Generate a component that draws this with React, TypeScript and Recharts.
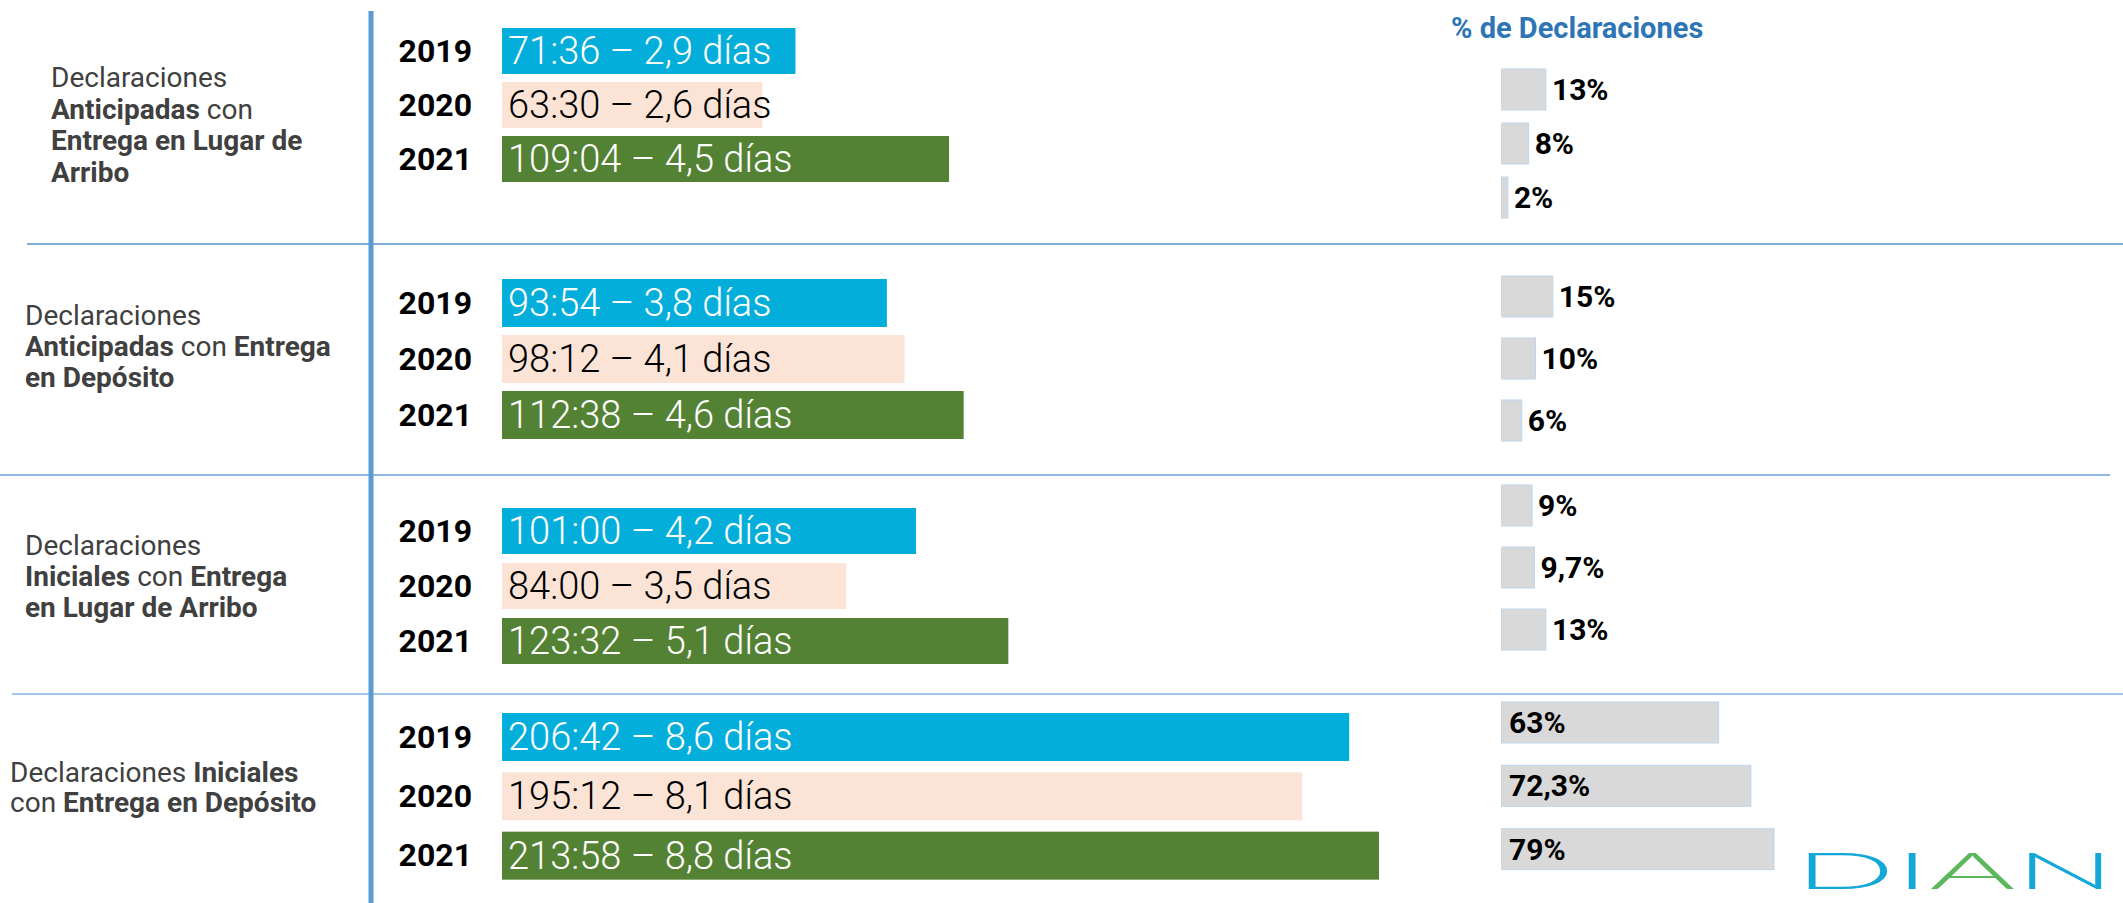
import React from 'react'
import { BarChart, Bar, XAxis, YAxis } from 'recharts'

// ---- data ----
const years = ['2019', '2020', '2021']

const groupLabels = [
  ['Declaraciones', '**Anticipadas** con', '**Entrega en Lugar de**', '**Arribo**'],
  ['Declaraciones', '**Anticipadas** con **Entrega**', '**en Depósito**'],
  ['Declaraciones', '**Iniciales** con **Entrega**', '**en Lugar de Arribo**'],
  ['Declaraciones **Iniciales**', 'con **Entrega en Depósito**'],
]

// tiempo promedio (hh:mm) por año
const tiempos = [
  ['71:36', '63:30', '109:04'],
  ['93:54', '98:12', '112:38'],
  ['101:00', '84:00', '123:32'],
  ['206:42', '195:12', '213:58'],
]

const dias = [
  [2.9, 2.6, 4.5],
  [3.8, 4.1, 4.6],
  [4.2, 3.5, 5.1],
  [8.6, 8.1, 8.8],
]

// % de declaraciones
const porcentajes = [
  [13, 8, 2],
  [15, 10, 6],
  [9, 9.7, 13],
  [63, 72.3, 79],
]

// ---- look & layout ----
const FONT = 'Roboto, "Open Sans", sans-serif'
const YEAR_COLORS = ['#04AEDA', '#FBE4D6', '#548235']
const YEAR_TEXT = ['#ffffff', '#000000', '#ffffff']

const HOUR_PANELS = [
  { top: 24, height: 162, barSize: 46 },
  { top: 275, height: 168, barSize: 48 },
  { top: 503, height: 165, barSize: 46 },
  { top: 707, height: 178, barSize: 48 },
]
const PCT_PANELS = [
  { top: 62, height: 162 },
  { top: 265, height: 186 },
  { top: 474, height: 186 },
  { top: 691, height: 190 },
]
const LABEL_POS = [
  { x: 51, y: 87, lh: 31.5 },
  { x: 25, y: 325, lh: 31 },
  { x: 25, y: 555, lh: 31 },
  { x: 10, y: 782, lh: 30 },
]

function toHours(t: string) {
  const [h, m] = t.split(':').map(Number)
  return h + m / 60
}
const fmt = (n: number) => String(n).replace('.', ',')

const maxHours = Math.max(...tiempos.flat().map(toHours))
const maxPct = Math.max(...porcentajes.flat())

const hourRows = tiempos.map((row, g) =>
  row.map((t, i) => ({
    year: years[i],
    idx: i,
    hours: toHours(t),
    label: `${t} – ${fmt(dias[g][i])} días`,
  })),
)
const pctRows = porcentajes.map((row) =>
  row.map((p, i) => ({ year: years[i], pct: p, label: `${fmt(p)}%` })),
)

function TimeBar(props: any) {
  const { x, y, width, height, payload } = props
  const i = payload.idx
  return (
    <g>
      <rect x={x} y={y} width={width} height={height} fill={YEAR_COLORS[i]} />
      <text
        x={x + 6}
        y={y + height / 2}
        dominantBaseline="central"
        fill={YEAR_TEXT[i]}
        fontSize={38}
        fontWeight={300}
        fontFamily={FONT}
      >
        {payload.label}
      </text>
    </g>
  )
}

function PctBar(props: any) {
  const { x, y, width, height, payload } = props
  const inside = width > 80
  return (
    <g>
      <rect x={x} y={y} width={width} height={height} fill="#D9D9D9" stroke="#BDD7EE" strokeWidth={1} />
      <text
        x={inside ? x + 8 : x + width + 6}
        y={y + height / 2}
        dominantBaseline="central"
        fontSize={30}
        fontWeight={700}
        fill="#000"
        fontFamily={FONT}
      >
        {payload.label}
      </text>
    </g>
  )
}

function YearTick(props: any) {
  const { x, y, payload } = props
  return (
    <text x={x} y={y} textAnchor="end" dominantBaseline="central" fontSize={32} fontWeight={700} fill="#000" fontFamily={FONT}>
      {payload.value}
    </text>
  )
}

function RichLine({ text, x, y }: { text: string; x: number; y: number }) {
  const parts = text.split('**')
  return (
    <text x={x} y={y} fontSize={28} fill="#404040" fontFamily={FONT} style={{ whiteSpace: 'pre' }}>
      {parts.map((p, k) => (
        <tspan key={k} fontWeight={k % 2 ? 700 : 400}>
          {p}
        </tspan>
      ))}
    </text>
  )
}

export default function App() {
  return (
    <div
      style={{
        position: 'absolute',
        left: 0,
        top: 0,
        width: 2123,
        height: 903,
        background: '#fff',
        overflow: 'hidden',
        fontFamily: FONT,
      }}
    >
      <svg width={2123} height={903} style={{ position: 'absolute', left: 0, top: 0 }}>
        <line x1={27} y1={244} x2={2123} y2={244} stroke="#7FADDC" strokeWidth={2} />
        <line x1={0} y1={475} x2={2110} y2={475} stroke="#8DB6E0" strokeWidth={2} />
        <line x1={12} y1={694} x2={2123} y2={694} stroke="#A4C6E8" strokeWidth={2} />
        <line x1={371} y1={11} x2={371} y2={903} stroke="#5B9BD5" strokeWidth={5} />

        {groupLabels.map((lines, g) =>
          lines.map((l, k) => (
            <RichLine key={`${g}-${k}`} text={l} x={LABEL_POS[g].x} y={LABEL_POS[g].y + k * LABEL_POS[g].lh} />
          )),
        )}

        <text x={1451} y={28} dominantBaseline="central" fontSize={29} fontWeight={700} fill="#2E75B6" fontFamily={FONT}>
          % de Declaraciones
        </text>

        <text
          x={1795}
          y={889}
          fontSize={52}
          fontWeight={300}
          fontFamily='Lato, "Open Sans", sans-serif'
          textLength={320}
          lengthAdjust="spacingAndGlyphs"
        >
          <tspan fill="#14A8D8">DI</tspan>
          <tspan fill="#5DB75D">A</tspan>
          <tspan fill="#14A8D8">N</tspan>
        </text>
      </svg>

      {hourRows.map((rows, g) => (
        <div key={`h${g}`} style={{ position: 'absolute', left: 372, top: HOUR_PANELS[g].top }}>
          <BarChart
            width={1007}
            height={HOUR_PANELS[g].height}
            data={rows}
            layout="vertical"
            margin={{ top: 0, right: 0, bottom: 0, left: 0 }}
          >
            <XAxis type="number" domain={[0, maxHours]} hide />
            <YAxis
              type="category"
              dataKey="year"
              width={130}
              axisLine={false}
              tickLine={false}
              tickSize={0}
              tickMargin={30}
              interval={0}
              tick={<YearTick />}
            />
            <Bar dataKey="hours" barSize={HOUR_PANELS[g].barSize} shape={<TimeBar />} isAnimationActive={false} />
          </BarChart>
        </div>
      ))}

      {pctRows.map((rows, g) => (
        <div key={`p${g}`} style={{ position: 'absolute', left: 1501, top: PCT_PANELS[g].top }}>
          <BarChart
            width={333}
            height={PCT_PANELS[g].height}
            data={rows}
            layout="vertical"
            margin={{ top: 0, right: 60, bottom: 0, left: 0 }}
          >
            <XAxis type="number" domain={[0, maxPct]} hide />
            <YAxis type="category" dataKey="year" hide />
            <Bar dataKey="pct" barSize={41} shape={<PctBar />} isAnimationActive={false} />
          </BarChart>
        </div>
      ))}
    </div>
  )
}
